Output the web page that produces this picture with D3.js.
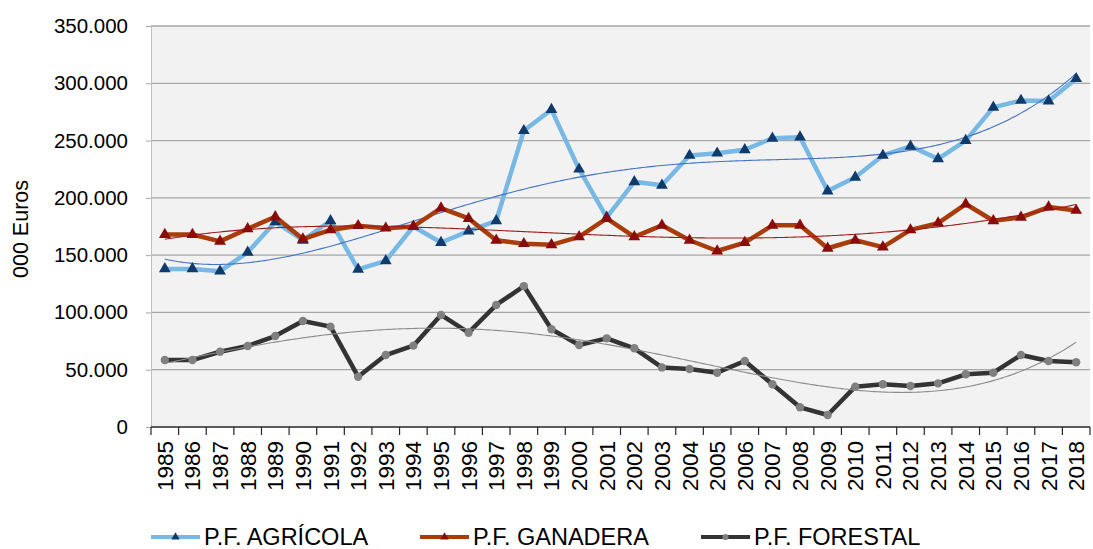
<!DOCTYPE html>
<html>
<head>
<meta charset="utf-8">
<script src="https://cdn.jsdelivr.net/npm/d3@7"></script>
<style>
  body { margin: 0; background: #fff; }
  svg text { font-family: "Liberation Sans", Arial, sans-serif; fill: #000; }
</style>
</head>
<body>
<svg id="chart" width="1093" height="549"></svg>
<script>
// years on the x axis
var years = [1985, 1986, 1987, 1988, 1989, 1990, 1991, 1992, 1993, 1994, 1995, 1996,
    1997, 1998, 1999, 2000, 2001, 2002, 2003, 2004, 2005, 2006, 2007, 2008, 2009,
    2010, 2011, 2012, 2013, 2014, 2015, 2016, 2017, 2018];

// values in thousand euros
var agricola = [138000, 138000, 136000, 152500, 179000, 163000, 180000, 137600, 145000, 175000,
    161000, 171000, 180000, 258600, 277000, 225000, 183000, 214000, 211000, 237000,
    239000, 242000, 252000, 253000, 206000, 218000, 237000, 245000, 234000, 250000,
    279000, 285000, 284500, 304000];
var ganadera = [168000, 168000, 162000, 173000, 183500, 164000, 172000, 175700, 173500, 175000,
    191000, 182000, 163000, 160000, 159000, 166000, 182000, 166000, 176000, 163000,
    153600, 161000, 176000, 176000, 156000, 163000, 157000, 172000, 178000, 194600,
    180000, 183000, 192000, 189000];
var forestal = [58500, 58500, 65700, 70700, 79400, 92500, 87600, 43900, 62800, 71000,
    97800, 82300, 106500, 123000, 85300, 71600, 77400, 68700, 52000, 50600,
    47400, 57600, 37300, 17200, 10500, 35200, 37300, 35800, 38100, 46000,
    47400, 62800, 57600, 56500];

var seriesNames = ["P.F. AGRÍCOLA", "P.F. GANADERA", "P.F. FORESTAL"];
var yTicks = [0, 50000, 100000, 150000, 200000, 250000, 300000, 350000];
var yTitle = "000 Euros";

var svg = d3.select("#chart");

var margin = {left: 151, right: 1090, top: 26, bottom: 427};

var x = d3.scaleBand()
    .domain(years)
    .range([margin.left, margin.right])
    .padding(0);
var y = d3.scaleLinear()
    .domain([0, 350000])
    .range([margin.bottom, margin.top]);

var es = d3.formatLocale({decimal: ",", thousands: ".", grouping: [3], currency: ["", " €"]});
var fmt = es.format(",d");

function cx(d, i) { return x(years[i]) + x.bandwidth() / 2; }

// plot area
svg.append("rect")
    .attr("x", margin.left)
    .attr("y", margin.top)
    .attr("width", margin.right - margin.left)
    .attr("height", margin.bottom - margin.top)
    .attr("fill", "#f2f2f2");

// gridlines
svg.append("g").selectAll("line")
    .data(yTicks.slice(1))
    .enter().append("line")
    .attr("x1", margin.left).attr("x2", margin.right)
    .attr("y1", function(d) { return y(d); })
    .attr("y2", function(d) { return y(d); })
    .attr("stroke", "#a6a6a6")
    .attr("stroke-width", 1.3);

// y axis
var yAxis = svg.append("g")
    .attr("transform", "translate(" + margin.left + ",0)")
    .call(d3.axisLeft(y).tickValues(yTicks).tickFormat(fmt).tickSize(5).tickPadding(18));
yAxis.select(".domain").attr("stroke", "#bfbfbf");
yAxis.selectAll(".tick line").attr("stroke", "#a6a6a6");
yAxis.selectAll("text")
    .style("font-size", "20.5px")
    .style("font-family", "'Liberation Sans', Arial, sans-serif")
    .attr("fill", "#000");

svg.append("text")
    .attr("transform", "translate(28,229) rotate(-90)")
    .attr("text-anchor", "middle")
    .style("font-size", "21.5px")
    .text(yTitle);

// x axis
var xAxis = svg.append("g")
    .attr("transform", "translate(0," + margin.bottom + ")");
xAxis.append("line")
    .attr("x1", margin.left).attr("x2", margin.right)
    .attr("stroke", "#262626").attr("stroke-width", 1.3);
xAxis.selectAll("line.tk")
    .data(years.concat([null]))
    .enter().append("line")
    .attr("class", "tk")
    .attr("x1", function(d, i) { return margin.left + i * x.bandwidth(); })
    .attr("x2", function(d, i) { return margin.left + i * x.bandwidth(); })
    .attr("y1", 0).attr("y2", 8)
    .attr("stroke", "#262626").attr("stroke-width", 1.2);
xAxis.selectAll("text")
    .data(years)
    .enter().append("text")
    .attr("transform", function(d) {
        return "translate(" + (x(d) + x.bandwidth() / 2 + 8) + ",14) rotate(-90)";
    })
    .attr("text-anchor", "end")
    .style("font-size", "22.5px")
    .text(function(d) { return d; });

// polynomial least squares for the trendlines
function polyFit(vals, order) {
    var n = vals.length, mid = (n - 1) / 2;
    var m = order + 1, A = [], b = [];
    for (var r = 0; r < m; r++) { A.push(new Array(m).fill(0)); b.push(0); }
    vals.forEach(function(v, i) {
        var t = (i - mid) / mid;
        for (var r = 0; r < m; r++) {
            b[r] += v * Math.pow(t, r);
            for (var c = 0; c < m; c++) A[r][c] += Math.pow(t, r + c);
        }
    });
    for (var k = 0; k < m; k++) {
        var p = k;
        for (var r = k + 1; r < m; r++) if (Math.abs(A[r][k]) > Math.abs(A[p][k])) p = r;
        var tmp = A[k]; A[k] = A[p]; A[p] = tmp;
        var tb = b[k]; b[k] = b[p]; b[p] = tb;
        for (var r = k + 1; r < m; r++) {
            var f = A[r][k] / A[k][k];
            for (var c = k; c < m; c++) A[r][c] -= f * A[k][c];
            b[r] -= f * b[k];
        }
    }
    var coef = new Array(m).fill(0);
    for (var k = m - 1; k >= 0; k--) {
        var s = b[k];
        for (var c = k + 1; c < m; c++) s -= A[k][c] * coef[c];
        coef[k] = s / A[k][k];
    }
    return function(i) {
        var t = (i - mid) / mid, s = 0;
        for (var r = 0; r < m; r++) s += coef[r] * Math.pow(t, r);
        return s;
    };
}

var series = [
    {name: seriesNames[0], values: agricola, line: "#78b8e4", marker: "#0f3a6b", trend: "#4472c4", sym: d3.symbolTriangle},
    {name: seriesNames[1], values: ganadera, line: "#a83c0a", marker: "#8b0a0a", trend: "#a01c1c", sym: d3.symbolTriangle},
    {name: seriesNames[2], values: forestal, line: "#333333", marker: "#808080", trend: "#8c8c8c", sym: d3.symbolCircle}
];

var line = d3.line()
    .x(function(d, i) { return cx(d, i); })
    .y(function(d) { return y(d); });

var trendLine = d3.line()
    .x(function(d) { return margin.left + (d[0] + 0.5) * x.bandwidth(); })
    .y(function(d) { return y(d[1]); });

series.forEach(function(s) {
    var g = svg.append("g");
    g.append("path")
        .datum(s.values)
        .attr("d", line)
        .attr("fill", "none")
        .attr("stroke", s.line)
        .attr("stroke-width", 4.5)
        .attr("stroke-linejoin", "round");
    var f = polyFit(s.values, 4);
    var pts = d3.range(0, s.values.length - 1 + 0.001, 0.1).map(function(i) { return [i, f(i)]; });
    g.append("path")
        .datum(pts)
        .attr("d", trendLine)
        .attr("fill", "none")
        .attr("stroke", s.trend)
        .attr("stroke-width", 1.1);
    g.selectAll("path.mk")
        .data(s.values)
        .enter().append("path")
        .attr("class", "mk")
        .attr("transform", function(d, i) { return "translate(" + cx(d, i) + "," + y(d) + ")"; })
        .attr("d", d3.symbol().type(s.sym).size(s.sym === d3.symbolCircle ? 55 : 60))
        .attr("fill", s.marker);
});

// legend
var legendX = [151, 420, 701];
var legend = svg.append("g").attr("transform", "translate(0,537)");
series.forEach(function(s, i) {
    var lg = legend.append("g").attr("transform", "translate(" + legendX[i] + ",0)");
    lg.append("line")
        .attr("x1", 0).attr("x2", 49)
        .attr("stroke", s.line).attr("stroke-width", 4);
    lg.append("path")
        .attr("transform", "translate(24.5,0)")
        .attr("d", d3.symbol().type(s.sym).size(30))
        .attr("fill", s.marker);
    lg.append("text")
        .attr("x", 53)
        .attr("y", 7.5)
        .style("font-size", "23.5px")
        .text(s.name);
});
</script>
</body>
</html>
